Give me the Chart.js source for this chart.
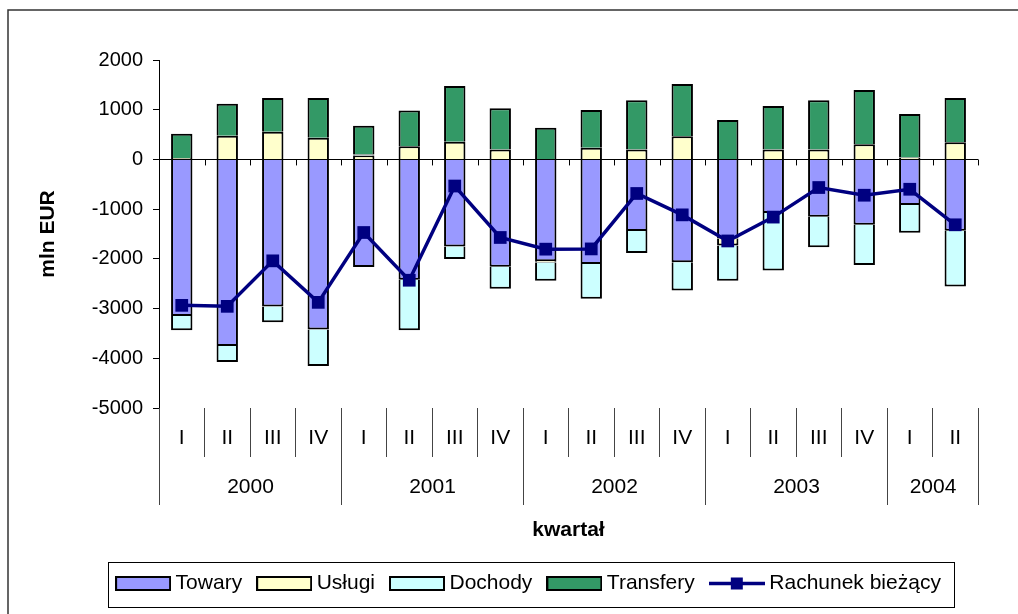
<!DOCTYPE html>
<html>
<head>
<meta charset="utf-8">
<script src="https://cdn.jsdelivr.net/npm/chart.js@4.4.1/dist/chart.umd.min.js"></script>
<style>
  body { margin: 0; background: #fff; }
  #wrap { width: 1018px; height: 614px; }
</style>
</head>
<body>
<div id="wrap"><canvas id="myChart" width="1018" height="614"></canvas></div>
<script>
// categories
const quarters = ['I', 'II', 'III', 'IV', 'I', 'II', 'III', 'IV', 'I', 'II', 'III', 'IV', 'I', 'II', 'III', 'IV', 'I', 'II'];
const years = ['2000', '2001', '2002', '2003', '2004'];
const yearSpans = [4, 4, 4, 4, 2];

// series (mln EUR)
const towary = [-3150, -3755, -2960, -3420, -2165, -2420, -1750, -2160, -2050, -2105, -1440, -2070, -1590, -1080, -1155, -1315, -915, -1435];
const uslugi = [30, 475, 555, 435, 80, 265, 355, 200, -25, 235, 200, 465, -140, 200, 200, 305, 40, 345];
const dochody = [-285, -320, -315, -735, 20, -1015, -255, -440, -365, -695, -440, -565, -710, -1155, -610, -810, -560, -1120];
const transfery = [485, 645, 680, 800, 575, 720, 1120, 830, 635, 760, 990, 1050, 795, 875, 990, 1090, 875, 890];
const rachunek = [-2935, -2955, -2040, -2875, -1470, -2430, -535, -1570, -1805, -1800, -685, -1115, -1640, -1160, -565, -720, -600, -1315];

// y axis ticks
const yMin = -5000;
const yMax = 2000;
const yStep = 1000;

const FONT = "'Liberation Sans', Arial, sans-serif";
Chart.defaults.font.family = FONT;
Chart.defaults.color = '#000';

// legend icons
function boxIcon(fill) {
  const c = document.createElement('canvas');
  c.width = 56; c.height = 15;
  const g = c.getContext('2d');
  g.fillStyle = fill;
  g.fillRect(1, 1, 54, 13);
  g.strokeStyle = '#000';
  g.lineWidth = 2;
  g.strokeRect(1, 1, 54, 13);
  return c;
}
function lineIcon(color) {
  const c = document.createElement('canvas');
  c.width = 56; c.height = 15;
  const g = c.getContext('2d');
  g.strokeStyle = color;
  g.lineWidth = 3.5;
  g.beginPath(); g.moveTo(0, 7.5); g.lineTo(56, 7.5); g.stroke();
  g.fillStyle = color;
  g.fillRect(22, 1.5, 12, 12);
  return c;
}

const barBase = {
  type: 'bar',
  stack: 'bars',
  borderColor: '#000',
  borderWidth: 2,
  barPercentage: 1,
  categoryPercentage: 0.47
};

const datasets = [
  Object.assign({}, barBase, { label: 'Towary', data: towary, backgroundColor: '#9999FF', icon: boxIcon('#9999FF') }),
  Object.assign({}, barBase, { label: 'Usługi', data: uslugi, backgroundColor: '#FFFFCC', icon: boxIcon('#FFFFCC') }),
  Object.assign({}, barBase, { label: 'Dochody', data: dochody, backgroundColor: '#CCFFFF', icon: boxIcon('#CCFFFF') }),
  Object.assign({}, barBase, { label: 'Transfery', data: transfery, backgroundColor: '#339966', icon: boxIcon('#339966') }),
  {
    type: 'line',
    label: 'Rachunek bieżący',
    data: rachunek,
    stack: 'line',
    order: -1,
    borderColor: '#000080',
    borderWidth: 3.5,
    pointStyle: 'rect',
    pointRadius: 9,
    pointBackgroundColor: '#000080',
    pointBorderWidth: 0,
    tension: 0,
    icon: lineIcon('#000080')
  }
];

// frame, year row, titles, legend box
const decorations = {
  id: 'decorations',
  beforeDraw(chart) {
    const ctx = chart.ctx;
    ctx.save();
    ctx.strokeStyle = '#333';
    ctx.lineWidth = 1.5;
    ctx.beginPath();
    ctx.moveTo(8, chart.height);
    ctx.lineTo(8, 10);
    ctx.lineTo(chart.width, 10);
    ctx.stroke();
    ctx.restore();
  },
  afterDraw(chart) {
    const ctx = chart.ctx;
    const x = chart.scales.x;
    const y = chart.scales.y;
    const area = chart.chartArea;
    const y0 = y.getPixelForValue(0);
    const edge = i => Math.round(x.getPixelForValue(i - 0.5)) + 0.5;
    ctx.save();

    // small ticks on the zero axis
    ctx.strokeStyle = '#000';
    ctx.lineWidth = 1;
    ctx.beginPath();
    for (let i = 0; i <= quarters.length; i++) {
      ctx.moveTo(edge(i), y0);
      ctx.lineTo(edge(i), y0 + 6);
    }
    ctx.stroke();

    // year separators and labels
    ctx.strokeStyle = '#444';
    ctx.beginPath();
    let start = 0;
    const yearY = area.bottom + 79;
    ctx.font = '21px ' + FONT;
    ctx.fillStyle = '#000';
    ctx.textAlign = 'center';
    ctx.textBaseline = 'middle';
    ctx.moveTo(edge(0), area.bottom);
    ctx.lineTo(edge(0), area.bottom + 97);
    for (let k = 0; k < years.length; k++) {
      const end = start + yearSpans[k];
      ctx.moveTo(edge(end), area.bottom);
      ctx.lineTo(edge(end), area.bottom + 97);
      ctx.fillText(years[k], (edge(start) + edge(end)) / 2, yearY);
      start = end;
    }
    ctx.stroke();

    // axis titles
    ctx.font = 'bold 21px ' + FONT;
    ctx.fillText('kwartał', (area.left + area.right) / 2, 530);
    ctx.translate(48, (area.top + area.bottom) / 2);
    ctx.rotate(-Math.PI / 2);
    ctx.fillText('mln EUR', 0, 0);
    ctx.restore();

    // legend frame
    const hb = chart.legend.legendHitBoxes;
    if (hb && hb.length) {
      const first = hb[0];
      const last = hb[hb.length - 1];
      const cy = first.top + first.height / 2;
      ctx.save();
      ctx.strokeStyle = '#000';
      ctx.lineWidth = 1;
      ctx.strokeRect(Math.round(first.left - 13) + 0.5, Math.round(cy - 22) + 0.5,
        Math.round(last.left + last.width + 13 - (first.left - 13)), 45);
      ctx.restore();
    }
  }
};

new Chart(document.getElementById('myChart'), {
  type: 'bar',
  data: { labels: quarters, datasets: datasets },
  plugins: [decorations],
  options: {
    responsive: false,
    animation: false,
    layout: { padding: { left: 84, right: 40, top: 60, bottom: 10 } },
    plugins: {
      tooltip: { enabled: false },
      legend: {
        position: 'bottom',
        labels: {
          usePointStyle: true,
          pointStyleWidth: 44,
          padding: 20,
          font: { size: 21 },
          color: '#000',
          generateLabels: chart => chart.data.datasets.map((ds, i) => ({
            text: ds.label,
            pointStyle: ds.icon,
            datasetIndex: i,
            hidden: false,
            lineWidth: 0,
            fontColor: '#000'
          }))
        },
        onClick: () => {}
      }
    },
    scales: {
      x: {
        stacked: true,
        afterFit: s => { s.height = 145; },
        border: { display: false },
        grid: {
          offset: true,
          drawOnChartArea: false,
          drawTicks: true,
          tickLength: 49,
          color: '#444',
          lineWidth: 1
        },
        ticks: {
          autoSkip: false,
          maxRotation: 0,
          padding: -31,
          font: { size: 21 },
          color: '#000'
        }
      },
      y: {
        stacked: true,
        min: yMin,
        max: yMax,
        afterFit: s => { s.width = 75; },
        border: { display: true, color: '#000', width: 1 },
        grid: {
          drawOnChartArea: true,
          color: c => (c.tick && c.tick.value === 0) ? '#000' : 'rgba(0,0,0,0)',
          tickColor: '#000',
          tickLength: 6,
          lineWidth: 1
        },
        ticks: {
          stepSize: yStep,
          padding: 10,
          font: { size: 20 },
          color: '#000',
          callback: v => String(v)
        }
      }
    }
  }
});
</script>
</body>
</html>
